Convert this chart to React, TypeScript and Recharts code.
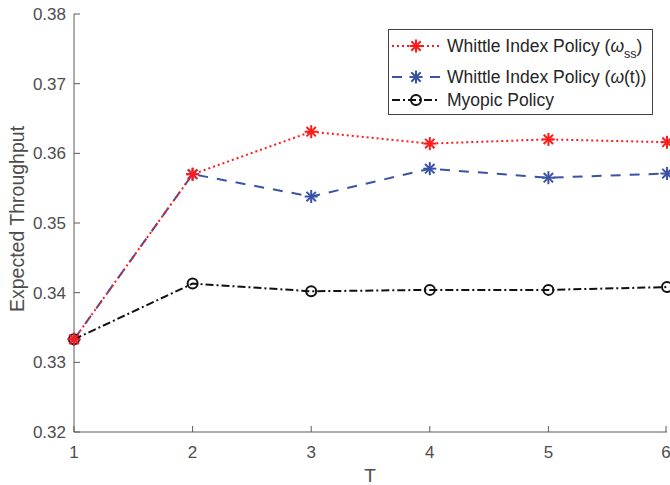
import React from 'react';
import { LineChart, Line, XAxis, YAxis } from 'recharts';

// T values and the three policies
const tValues = [1, 2, 3, 4, 5, 6];
const whittleSS = [0.3333, 0.357, 0.3631, 0.3614, 0.362, 0.3616];
const whittleT = [0.3333, 0.357, 0.3538, 0.3578, 0.3565, 0.3571];
const myopic = [0.3333, 0.3413, 0.3402, 0.3404, 0.3404, 0.3408];

const yTicks = [0.32, 0.33, 0.34, 0.35, 0.36, 0.37, 0.38];
const xTicks = [1, 2, 3, 4, 5, 6];

const data = tValues.map((t, i) => ({
    t,
    ss: whittleSS[i],
    wt: whittleT[i],
    my: myopic[i],
}));

const TEXT = '#4d4d4d';
const AXIS = '#5a5a5a';
const RED = '#ff1a1a';
const BLUE = '#3a53a4';
const FONT = 'Liberation Sans, Arial, sans-serif';
const TICK_LEN = 6;

const LeftTick = (props: any) => {
    const { x, y, payload } = props;
    const ax = x + 8;
    return (
        <g>
            <line x1={ax} x2={ax + TICK_LEN} y1={y} y2={y} stroke={AXIS} />
            <text x={x} y={y + 6} textAnchor="end" fill={TEXT} fontSize={17} fontFamily={FONT}>
                {payload.value.toFixed(2)}
            </text>
        </g>
    );
};

const BottomTick = (props: any) => {
    const { x, y, payload } = props;
    const ay = y - 8;
    return (
        <g>
            <line x1={x} x2={x} y1={ay} y2={ay - TICK_LEN} stroke={AXIS} />
            <text x={x} y={y + 18} textAnchor="middle" fill={TEXT} fontSize={17} fontFamily={FONT}>
                {payload.value}
            </text>
        </g>
    );
};

const RightTick = (props: any) => {
    const { x, y } = props;
    return <line x1={x} x2={x - TICK_LEN} y1={y} y2={y} stroke={AXIS} />;
};

const TopTick = (props: any) => {
    const { x, y } = props;
    return <line x1={x} x2={x} y1={y} y2={y + TICK_LEN} stroke={AXIS} />;
};

const Asterisk = (props: any) => {
    const { cx, cy, stroke } = props;
    if (cx == null || cy == null) return null;
    const r = 6.5;
    const d = r * 0.72;
    return (
        <g stroke={stroke} strokeWidth={2}>
            <line x1={cx - r} x2={cx + r} y1={cy} y2={cy} />
            <line x1={cx} x2={cx} y1={cy - r} y2={cy + r} />
            <line x1={cx - d} x2={cx + d} y1={cy - d} y2={cy + d} />
            <line x1={cx - d} x2={cx + d} y1={cy + d} y2={cy - d} />
        </g>
    );
};

const Circle = (props: any) => {
    const { cx, cy } = props;
    if (cx == null || cy == null) return null;
    return <circle cx={cx} cy={cy} r={5} fill="none" stroke="#111" strokeWidth={2} />;
};

// legend drawn as an overlay so it sits above the lines and takes no room from the plot
const LegendBox = () => (
    <svg width={266} height={87} style={{ display: 'block' }}>
        <rect x={0.5} y={0.5} width={264} height={85} fill="#fff" stroke="#444" />
        <g fontFamily={FONT} fontSize={17.5} fill="#262626">
            <line x1={4} x2={52} y1={17} y2={17} stroke={RED} strokeWidth={2} strokeDasharray="2 3" />
            <Asterisk cx={28} cy={17} stroke={RED} />
            <text x={59} y={23}>
                Whittle Index Policy (
                <tspan fontStyle="italic">ω</tspan>
                <tspan fontSize={12.5} dy={6}>ss</tspan>
                <tspan dy={-6}>)</tspan>
            </text>
            <line x1={4} x2={52} y1={48} y2={48} stroke={BLUE} strokeWidth={2} strokeDasharray="10 9" />
            <Asterisk cx={28} cy={48} stroke={BLUE} />
            <text x={59} y={54}>
                Whittle Index Policy (<tspan fontStyle="italic">ω</tspan>(t))
            </text>
            <line x1={4} x2={52} y1={71} y2={71} stroke="#111" strokeWidth={2} strokeDasharray="8 3 2 3" />
            <Circle cx={28} cy={71} />
            <text x={59} y={77}>Myopic Policy</text>
        </g>
    </svg>
);

export default function App() {
    return (
        <div style={{ position: 'absolute', left: 0, top: 0, width: 670, height: 485, background: '#fff' }}>
            <LineChart width={670} height={485} data={data} margin={{ top: 14, right: 3, bottom: 23, left: 0 }}>
                <XAxis
                    dataKey="t"
                    type="number"
                    domain={[1, 6]}
                    ticks={xTicks}
                    height={30}
                    tickSize={0}
                    tickMargin={8}
                    tick={<BottomTick />}
                    stroke={AXIS}
                    label={{
                        content: () => (
                            <text x={370} y={482} textAnchor="middle" fill={TEXT} fontSize={19} fontFamily={FONT}>
                                T
                            </text>
                        ),
                    }}
                />
                <XAxis
                    xAxisId="top"
                    dataKey="t"
                    type="number"
                    orientation="top"
                    domain={[1, 6]}
                    ticks={xTicks}
                    height={0}
                    tickSize={0}
                    tickMargin={0}
                    tick={<TopTick />}
                    stroke={AXIS}
                />
                <YAxis
                    type="number"
                    domain={[0.32, 0.38]}
                    ticks={yTicks}
                    width={74}
                    tickSize={0}
                    tickMargin={8}
                    tick={<LeftTick />}
                    stroke={AXIS}
                    label={{
                        content: (p: any) => {
                            const vb = p.viewBox || {};
                            const cy = (vb.y ?? 14) + (vb.height ?? 418) / 2 - 4;
                            return (
                                <text
                                    x={24}
                                    y={cy}
                                    transform={`rotate(-90 24 ${cy})`}
                                    textAnchor="middle"
                                    fill={TEXT}
                                    fontSize={19.5}
                                    fontFamily={FONT}
                                >
                                    Expected Throughput
                                </text>
                            );
                        },
                    }}
                />
                <YAxis
                    yAxisId="right"
                    orientation="right"
                    type="number"
                    domain={[0.32, 0.38]}
                    ticks={yTicks}
                    width={0}
                    tickSize={0}
                    tickMargin={0}
                    tick={<RightTick />}
                    stroke={AXIS}
                />
                <Line
                    dataKey="my"
                    stroke="#111"
                    strokeWidth={2}
                    strokeDasharray="8 3 2 3"
                    dot={<Circle />}
                    activeDot={false}
                    isAnimationActive={false}
                />
                <Line
                    dataKey="wt"
                    stroke={BLUE}
                    strokeWidth={2}
                    strokeDasharray="10 9"
                    dot={<Asterisk stroke={BLUE} />}
                    activeDot={false}
                    isAnimationActive={false}
                />
                <Line
                    dataKey="ss"
                    stroke={RED}
                    strokeWidth={2}
                    strokeDasharray="2 3"
                    dot={<Asterisk stroke={RED} />}
                    activeDot={false}
                    isAnimationActive={false}
                />
            </LineChart>
            <div style={{ position: 'absolute', left: 388, top: 29 }}>
                <LegendBox />
            </div>
        </div>
    );
}
